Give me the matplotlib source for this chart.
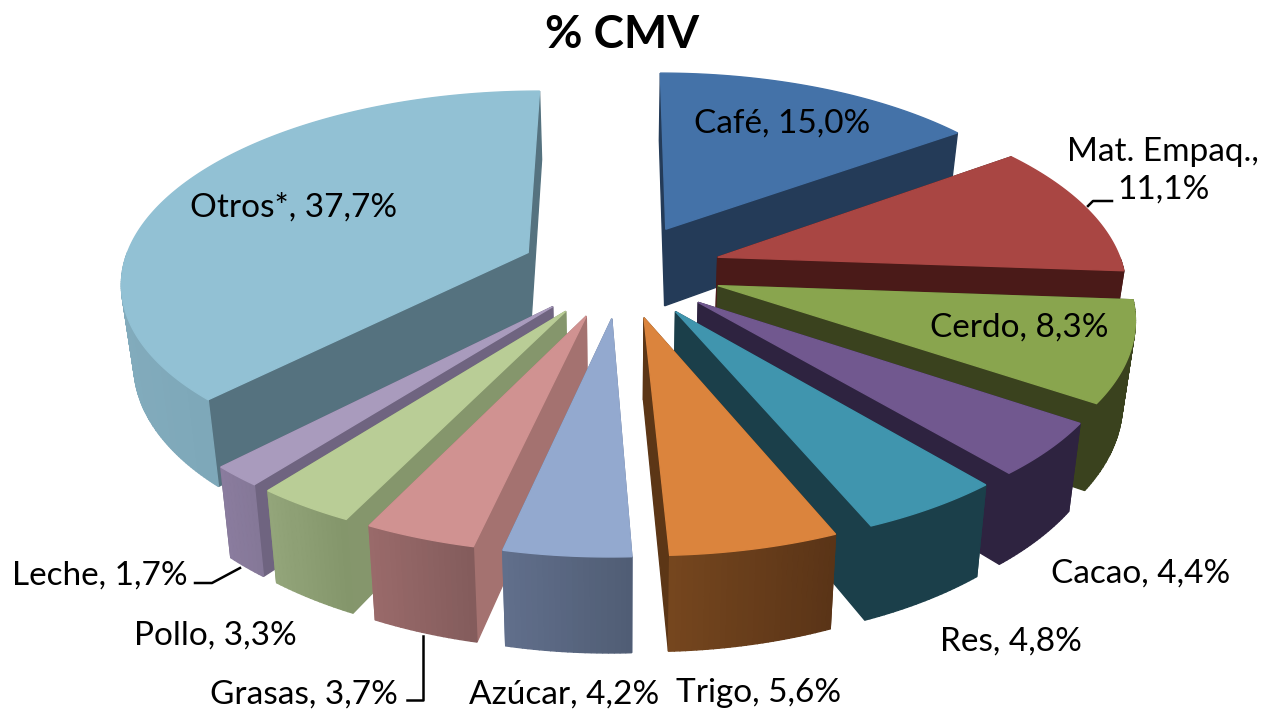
import numpy as np
import matplotlib
matplotlib.use("Agg")
import matplotlib.pyplot as plt
from matplotlib.colors import to_rgb

plt.rcParams['font.family'] = ['Lato', 'DejaVu Sans']

labels = ['Café', 'Mat. Empaq.', 'Cerdo', 'Cacao', 'Res', 'Trigo', 'Azúcar', 'Grasas', 'Pollo', 'Leche', 'Otros*']
values = [15.0, 11.1, 8.3, 4.4, 4.8, 5.6, 4.2, 3.7, 3.3, 1.7, 37.7]

top_colors = ['#4472A8', '#A94643', '#89A54E', '#71588F', '#4095AE', '#DB843D', '#93A9CF', '#D09291', '#B9CD96', '#A99BBD', '#92C1D4']
cut_colors = ['#243B58', '#4A1A18', '#3A421E', '#2E2340', '#1B3F4A', '#5C3616', '#5F7090', '#A47270', '#85966C', '#6F6480', '#55727F']
arc_left = ['#243B58', '#4A1A18', '#3A421E', '#2E2340', '#1B3F4A', '#75461E', '#616F8C', '#9A6A6A', '#93A57A', '#8A7C9E', '#82ABBC']
arc_right = ['#243B58', '#4A1A18', '#3A421E', '#2E2340', '#1B3F4A', '#5A3417', '#505D74', '#835C5C', '#84966B', '#857898', '#6C9BAC']

# pie geometry in the picture
cx, cy = 621, 270
ax_x, ax_y = 406, 189
persp = 0.142
depth = 79
shrink = 0.025
explode = 0.25


def project(u, v, z=0):
    s = 1 + persp * v
    return cx + ax_x * u / s * (1 - shrink * z), cy - ax_y * v / s + depth * z / s


def mix(a, b, t):
    a, b = np.array(to_rgb(a)), np.array(to_rgb(b))
    return tuple(a + (b - a) * t)


fig = plt.figure(figsize=(12.63, 7.10), dpi=100)
ax = fig.add_axes([0, 0, 1, 1])
ax.set_xlim(0, 1263)
ax.set_ylim(710, 0)
ax.axis('off')

edges = np.cumsum([0] + values) / sum(values) * 2 * np.pi
order = []
for i in range(len(values)):
    mid = (edges[i] + edges[i + 1]) / 2
    order.append((explode * np.cos(mid), i))

# back slices first
for _, i in sorted(order, reverse=True):
    t0, t1 = edges[i], edges[i + 1]
    mid = (t0 + t1) / 2
    ou, ov = explode * np.sin(mid), explode * np.cos(mid)
    th = np.linspace(t0, t1, max(int((t1 - t0) * 90), 4))
    us = ou + np.sin(th)
    vs = ov + np.cos(th)

    faces = []
    for t in (t0, t1):
        eu, ev = ou + np.sin(t), ov + np.cos(t)
        pts = [project(ou, ov), project(eu, ev), project(eu, ev, 1), project(ou, ov, 1)]
        faces.append(((ov + ev) / 2, pts, cut_colors[i]))
    xs = [project(a, b)[0] for a, b in zip(us, vs)]
    for k in range(len(th) - 1):
        # the back of the rim is hidden under the top
        if np.cos((th[k] + th[k + 1]) / 2) > 0:
            continue
        pts = [project(us[k], vs[k]), project(us[k + 1], vs[k + 1]),
               project(us[k + 1], vs[k + 1], 1), project(us[k], vs[k], 1)]
        xm = (pts[0][0] + pts[1][0]) / 2
        f = (xm - min(xs)) / max(max(xs) - min(xs), 1)
        faces.append(((vs[k] + vs[k + 1]) / 2, pts, mix(arc_left[i], arc_right[i], f)))
    for _, pts, col in sorted(faces, key=lambda q: -q[0]):
        px, py = zip(*pts)
        ax.fill(px, py, color=col, lw=1.0, zorder=2)

    tx, ty = project(np.r_[ou, us], np.r_[ov, vs])
    ax.fill(tx, ty, color=top_colors[i], lw=1.0, zorder=2)

# data labels
text_pos = [(782, 124), (1163, 171), (1019, 328), (1141, 574), (1011, 642), (759, 693), (564, 695), (304, 695), (215, 636), (100, 576), (294, 208)]
for i, (x, y) in enumerate(text_pos):
    pct = f"{values[i]:.1f}".replace('.', ',') + "%"
    sep = ",\n" if labels[i].startswith('Mat') else ", "
    ax.text(x, y, labels[i] + sep + pct, fontsize=24, ha='center', va='center',
            color='black', linespacing=1.3, zorder=5)

ax.text(622, 35, '% CMV', fontsize=33, fontweight='bold', ha='center', va='center', zorder=5)

# leader lines
ax.plot([1112, 1093, 1088], [201, 201, 206], color='black', lw=1.8, zorder=4)
ax.plot([195, 212, 240], [583, 583, 568], color='black', lw=1.8, zorder=4)
ax.plot([407, 423, 423], [700, 700, 636], color='black', lw=1.8, zorder=4)

fig.savefig('out.png', dpi=100)
